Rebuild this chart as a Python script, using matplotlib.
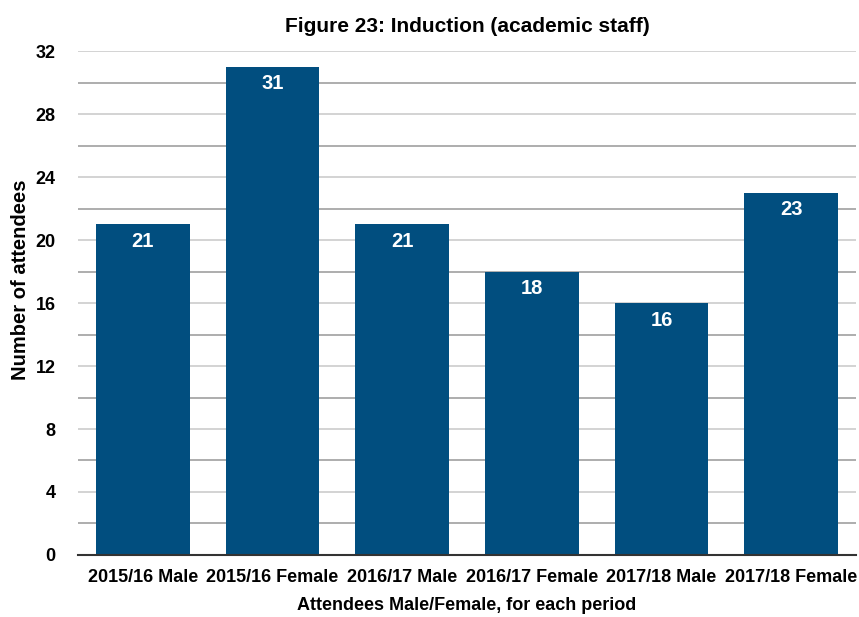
import matplotlib.pyplot as plt

categories = ["2015/16 Male", "2015/16 Female", "2016/17 Male",
              "2016/17 Female", "2017/18 Male", "2017/18 Female"]
attendees = [21, 31, 21, 18, 16, 23]

plt.rcParams["font.family"] = ["Liberation Sans", "DejaVu Sans"]
plt.rcParams["font.weight"] = "bold"

fig = plt.figure(figsize=(8.59, 6.17), dpi=100)
ax = fig.add_axes([0.0908, 0.1005, 0.9057, 0.8168])

x = range(len(categories))
ax.bar(x, attendees, width=0.72, color="#014e7f", zorder=3)

# value labels inside the top of each bar
for xi, v in zip(x, attendees):
    ax.annotate(str(v), (xi, v), xytext=(0, -5.5), textcoords="offset points",
                ha="center", va="top", color="white", fontsize=14.5, fontweight="bold", zorder=4)

ax.set_xlim(-0.5, len(categories) - 0.5)
ax.set_ylim(0, 32)
ax.set_yticks(range(0, 33, 4))
ax.set_yticks(range(2, 32, 4), minor=True)
ax.grid(axis="y", which="major", color="#cccccc", linewidth=1.2, zorder=0)
ax.grid(axis="y", which="minor", color="#a0a0a0", linewidth=1.2, zorder=0)
ax.tick_params(axis="both", which="both", length=0, labelsize=13)
ax.tick_params(axis="y", pad=16)
ax.tick_params(axis="x", pad=10)
ax.set_xticks(list(x))
ax.set_xticklabels(categories)

for side in ["top", "right", "left"]:
    ax.spines[side].set_visible(False)
ax.spines["bottom"].set_color("#333333")
ax.spines["bottom"].set_linewidth(1.5)
ax.spines["bottom"].set_zorder(5)

ax.set_title("Figure 23: Induction (academic staff)", fontsize=15, fontweight="bold", pad=14)
ax.set_xlabel("Attendees Male/Female, for each period", fontsize=13, fontweight="bold", labelpad=8)
ax.set_ylabel("Number of attendees", fontsize=14.5, fontweight="bold")
ax.yaxis.set_label_coords(-0.062, 0.546)

fig.savefig("out.png", dpi=100)
